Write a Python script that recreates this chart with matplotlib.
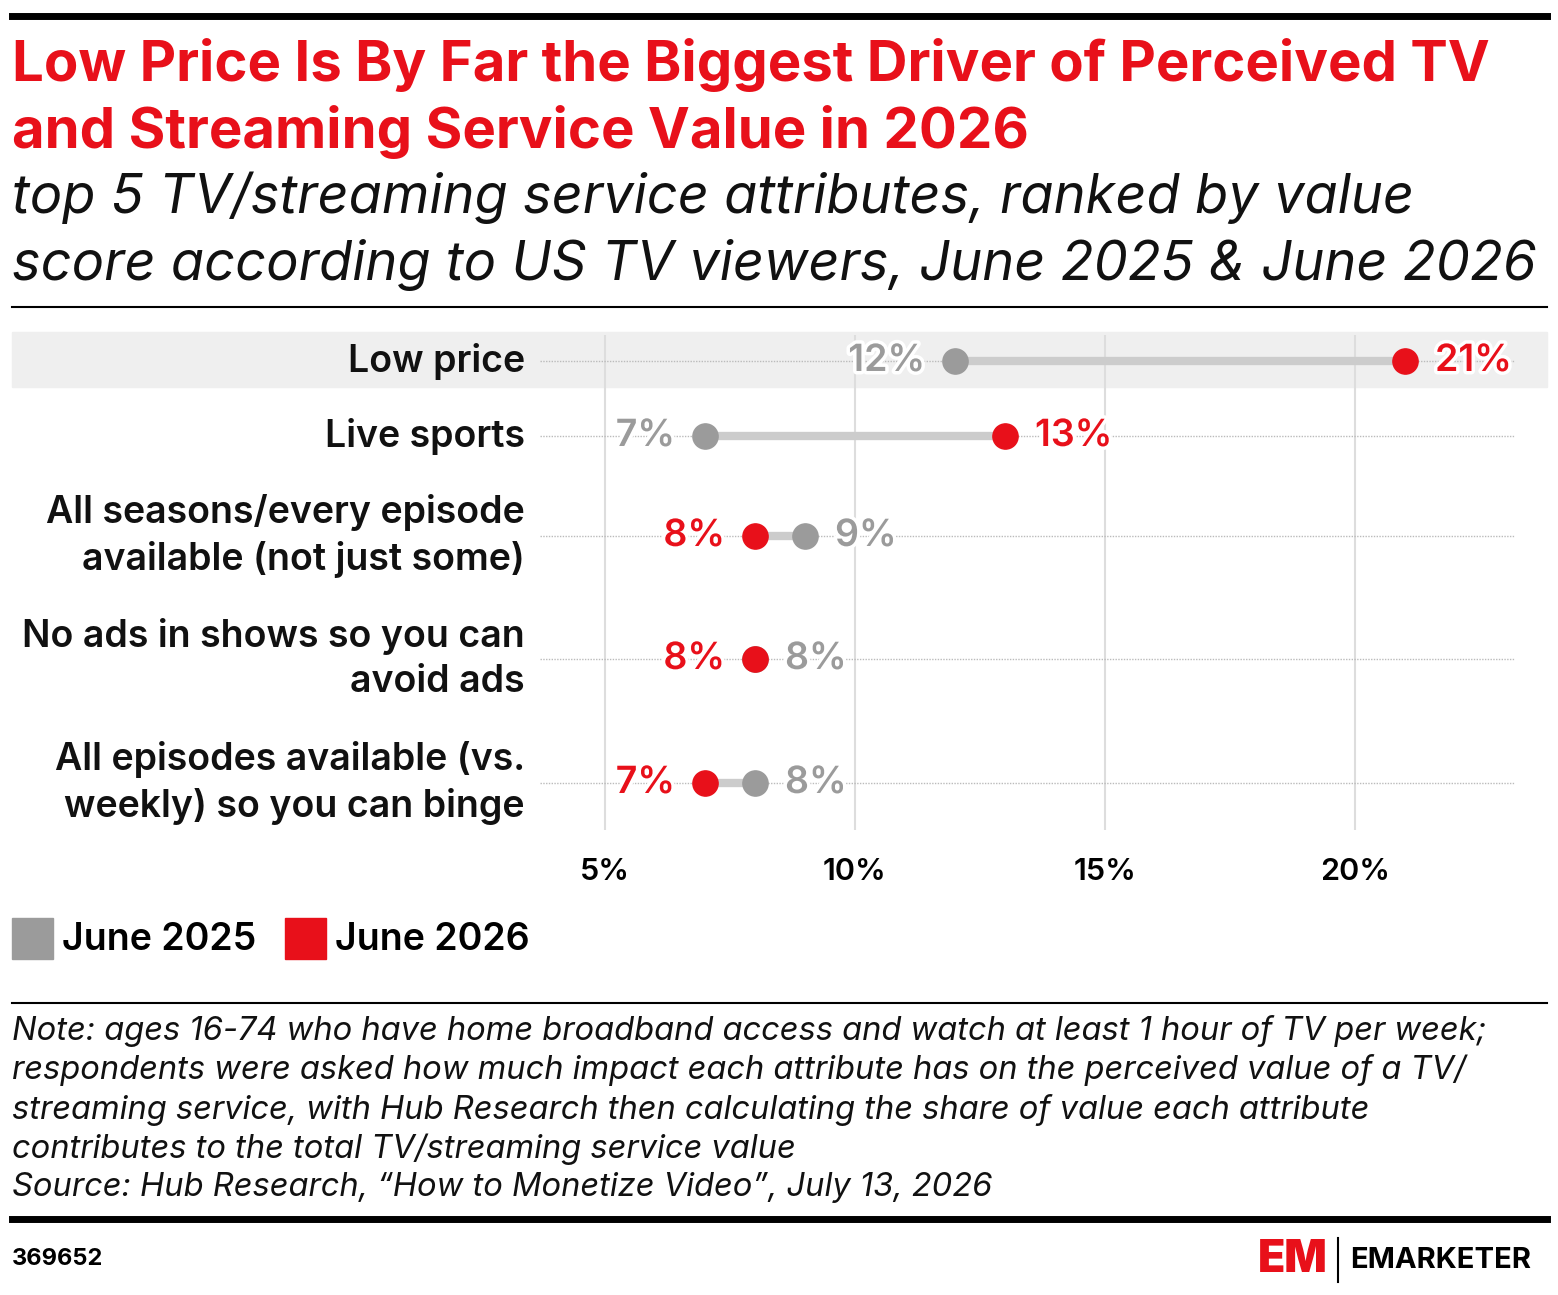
import matplotlib
matplotlib.use("Agg")
import matplotlib.pyplot as plt
import matplotlib.patheffects as pe
from matplotlib.patches import Rectangle

categories = ["Low price", "Live sports", "All seasons/every episode\navailable (not just some)",
              "No ads in shows so you can\navoid ads", "All episodes available (vs.\nweekly) so you can binge"]
june2025 = [12, 7, 9, 8, 8]
june2026 = [21, 13, 8, 8, 7]
ypos = [361, 436, 536, 659, 783]  # row centres (pixel rows)
xticks = [5, 10, 15, 20]

RED = "#E8101A"; GREY = "#9B9B9B"; LGREY = "#CCCCCC"
plt.rcParams['font.family'] = ['Inter', 'DejaVu Sans']
W, H = 1558, 1295
fig = plt.figure(figsize=(W/100, H/100), dpi=100)
def fx(p): return p / W
def fy(p): return 1 - p / H

fig.add_artist(plt.Line2D([fx(12), fx(1547)], [fy(16)]*2, color='black', lw=5))
fig.text(fx(12), fy(65), "Low Price Is By Far the Biggest Driver of Perceived TV", color=RED,
         fontsize=40.5, fontweight='bold', va='center')
fig.text(fx(12), fy(132), "and Streaming Service Value in 2026", color=RED,
         fontsize=40.5, fontweight='bold', va='center')
fig.text(fx(12), fy(198), "top 5 TV/streaming service attributes, ranked by value", color='#111',
         fontsize=39, fontstyle='italic', va='center')
fig.text(fx(12), fy(265), "score according to US TV viewers, June 2025 & June 2026", color='#111',
         fontsize=39, fontstyle='italic', va='center')
fig.add_artist(plt.Line2D([fx(12), fx(1547)], [fy(307)]*2, color='black', lw=1.5))

fig.add_artist(Rectangle((fx(12), fy(387)), fx(1547-12), 55/H, color='#EFEFEF', zorder=0))

ax_l, ax_r, ax_t, ax_b = 540, 1515, 335, 830
ax = fig.add_axes([fx(ax_l), fy(ax_b), fx(ax_r-ax_l), (ax_b-ax_t)/H])
ax.patch.set_alpha(0)
x0 = 5 - (605-ax_l)/50; x1 = 5 + (ax_r-605)/50
ax.set_xlim(x0, x1); ax.set_ylim(ax_b, ax_t)
for s in ax.spines.values(): s.set_visible(False)
ax.set_yticks([])
ax.set_xticks(xticks)
ax.set_xticklabels([f"{t}%" for t in xticks], fontsize=22, fontweight='semibold')
ax.tick_params(axis='x', length=0, pad=20)
for t in xticks:
    ax.axvline(t, color='#DDDDDD', lw=1.5, zorder=0)
outline = [pe.withStroke(linewidth=5, foreground='white')]
for i, cat in enumerate(categories):
    y = ypos[i]
    ax.axhline(y, color='#BBBBBB', lw=1, ls=(0, (1, 1)), zorder=0)
    a, b = june2025[i], june2026[i]
    ax.plot([a, b], [y, y], color=LGREY, lw=6, zorder=2, solid_capstyle='butt')
    ax.scatter([a], [y], s=330, color=GREY, zorder=3)
    ax.scatter([b], [y], s=330, color=RED, zorder=4)
    off = 0.6
    if b > a:
        ax.text(a-off, y, f"{a}%", ha='right', va='center', color=GREY, fontsize=27, fontweight='semibold', path_effects=outline)
        ax.text(b+off, y, f"{b}%", ha='left', va='center', color=RED, fontsize=27, fontweight='semibold', path_effects=outline)
    else:
        ax.text(b-off, y, f"{b}%", ha='right', va='center', color=RED, fontsize=27, fontweight='semibold', path_effects=outline)
        ax.text(a+off, y, f"{a}%", ha='left', va='center', color=GREY, fontsize=27, fontweight='semibold', path_effects=outline)
    fig.text(fx(525), fy(y), cat, ha='right', va='center', fontsize=27, fontweight='semibold',
             linespacing=1.32, color='#111')

fig.add_artist(Rectangle((fx(12), fy(959)), fx(41), 41/H, color=GREY))
fig.text(fx(62), fy(940), "June 2025", fontsize=27, fontweight='semibold', va='center')
fig.add_artist(Rectangle((fx(285), fy(959)), fx(41), 41/H, color=RED))
fig.text(fx(335), fy(940), "June 2026", fontsize=27, fontweight='semibold', va='center')

fig.add_artist(plt.Line2D([fx(12), fx(1547)], [fy(1003)]*2, color='black', lw=1.5))
note = ("Note: ages 16-74 who have home broadband access and watch at least 1 hour of TV per week;\n"
        "respondents were asked how much impact each attribute has on the perceived value of a TV/\n"
        "streaming service, with Hub Research then calculating the share of value each attribute\n"
        "contributes to the total TV/streaming service value\n"
        "Source: Hub Research, \u201cHow to Monetize Video\u201d, July 13, 2026")
fig.text(fx(12), fy(1015), note, fontsize=23.5, fontstyle='italic', va='top',
         linespacing=1.3, color='#111')
fig.add_artist(plt.Line2D([fx(12), fx(1547)], [fy(1219)]*2, color='black', lw=5))
fig.text(fx(12), fy(1259), "369652", fontsize=17, fontweight='bold', va='center')
fig.text(fx(1258), fy(1260), "EM", fontsize=32, fontweight='black', color=RED, va='center')
fig.add_artist(plt.Line2D([fx(1338), fx(1338)], [fy(1238), fy(1282)], color='black', lw=1.5))
fig.text(fx(1350), fy(1260), "EMARKETER", fontsize=21, fontweight='bold', va='center')

fig.savefig("out.png", dpi=100)
